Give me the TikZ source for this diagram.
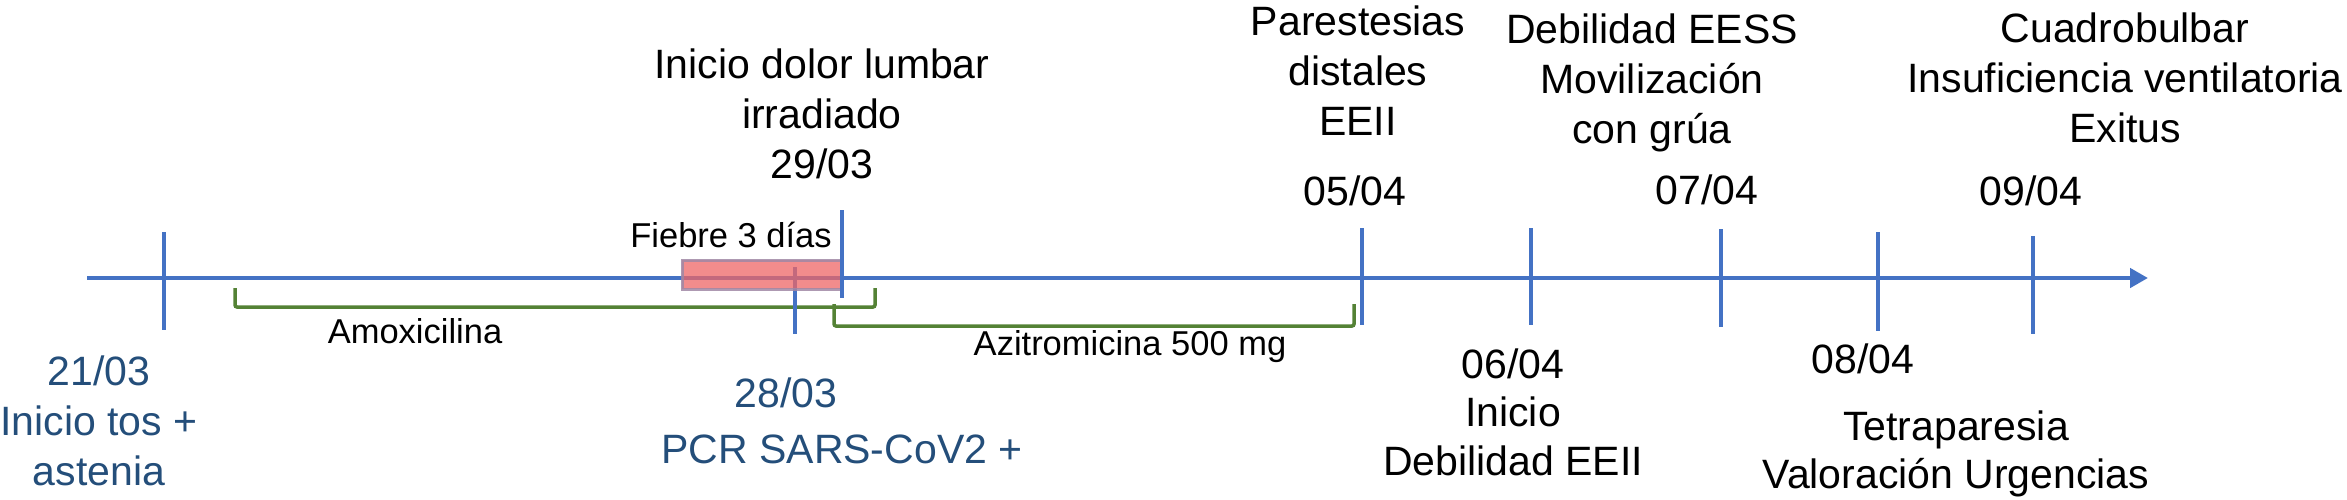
\documentclass[tikz,border=0pt]{standalone}
\usepackage{fontspec}
\setmainfont{Liberation Sans}
\usetikzlibrary{arrows.meta}
\definecolor{axisblue}{RGB}{68,114,196}
\definecolor{labblue}{RGB}{36,78,122}
\definecolor{bracketgreen}{RGB}{84,130,53}
\definecolor{feverpink}{RGB}{238,102,102}
\definecolor{feverborder}{RGB}{160,135,165}
\newcommand{\mlines}[1]{\begin{tabular}[t]{@{}c@{}}#1\end{tabular}}
\begin{document}
\begin{tikzpicture}[x=1pt,y=-1pt,
  big/.style={font=\fontsize{41}{50}\selectfont, inner sep=0pt, anchor=base},
  bignarrow/.style={font=\fontsize{41}{48.5}\selectfont, inner sep=0pt, anchor=base},
  small/.style={font=\fontsize{34.5}{42}\selectfont, inner sep=0pt, anchor=base},
  ticklne/.style={axisblue, line width=4pt},
  bracket/.style={bracketgreen, line width=3.5pt, rounded corners=2pt}]
\useasboundingbox (0,0) rectangle (2347,499);
% axis
\coordinate (axstart) at (87,278);
\coordinate (axend) at (2148,278);
\draw[axisblue, line width=4.5pt, -{Triangle[length=18pt,width=19pt]}] (axstart) -- (axend);
% treatment brackets
\draw[bracket] (235,288) -- (235,307) -- (875,307) -- (875,288);
\draw[bracket] (834,304) -- (834,326) -- (1354,326) -- (1354,304);
% tick 28/03 (under fever box)
\draw[ticklne] (795,267) -- (795,334);
% fever box
\draw[draw=feverborder, draw opacity=0.85, line width=3pt, fill=feverpink, fill opacity=0.75] (682,260) rectangle (841,289);
% other ticks
\draw[ticklne] (164,232) -- (164,330);
\draw[ticklne] (842,210) -- (842,298);
\draw[ticklne] (1362,228) -- (1362,325);
\draw[ticklne] (1531,228) -- (1531,325);
\draw[ticklne] (1721,229) -- (1721,327);
\draw[ticklne] (1878,232) -- (1878,331);
\draw[ticklne] (2033,236) -- (2033,334);
% labels above
\node[big] (lumbar) at (822,78) {\mlines{Inicio dolor lumbar\\irradiado\\29/03}};
\node[big] (parest) at (1358,35) {\mlines{Parestesias\\distales\\EEII}};
\node[big] (eess) at (1652,43) {\mlines{Debilidad EESS\\Movilización\\con grúa}};
\node[big] (bulbar) at (2125,42) {\mlines{Cuadrobulbar\\Insuficiencia ventilatoria\\Exitus}};
\node[big] (d0504) at (1355,205) {05/04};
\node[big] (d0704) at (1707,204) {07/04};
\node[big] (d0904) at (2031,205) {09/04};
\node[small] (fiebre) at (731,247) {Fiebre 3 días};
% labels below
\node[small] (amox) at (415,343) {Amoxicilina};
\node[small] (azit) at (1130,355) {Azitromicina 500 mg};
\node[big, text=labblue] (d2103) at (99,385) {\mlines{21/03\\Inicio tos +\\astenia}};
\node[big, text=labblue] (d2803) at (786,407) {28/03};
\node[big, text=labblue] (pcr) at (842,463) {PCR SARS-CoV2 +};
\node[bignarrow] (d0604) at (1513,378) {\mlines{06/04\\Inicio\\Debilidad EEII}};
\node[big] (d0804) at (1863,373) {08/04};
\node[bignarrow] (tetra) at (1956,440) {\mlines{Tetraparesia\\Valoración Urgencias}};
\end{tikzpicture}
\end{document}
